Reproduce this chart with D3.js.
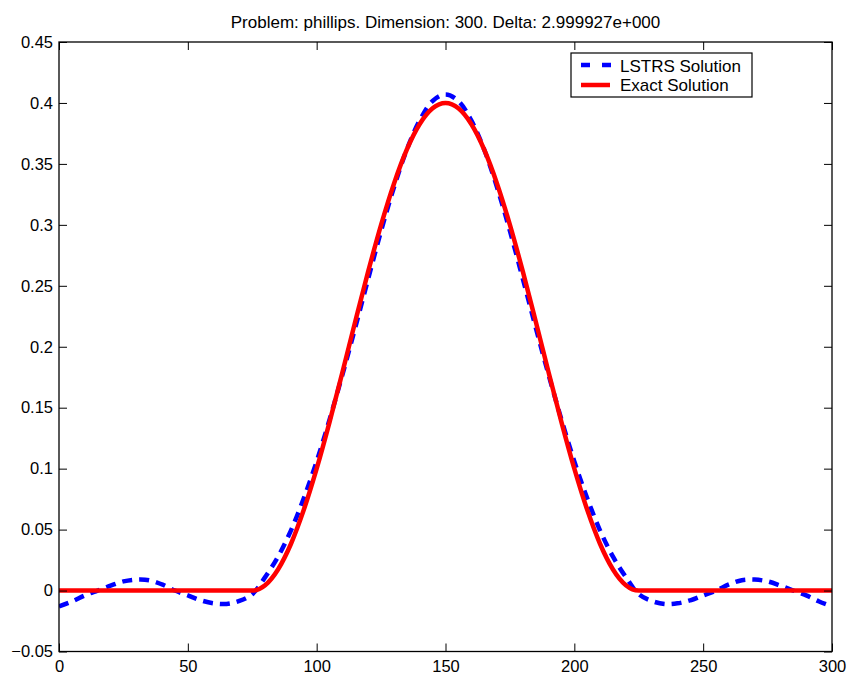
<!DOCTYPE html>
<html>
<head>
<meta charset="utf-8">
<script src="https://cdn.jsdelivr.net/npm/d3@7"></script>
<style>
  html, body { margin: 0; padding: 0; background: #fff; }
  svg { display: block; }
  text { font-family: "Liberation Sans", Arial, Helvetica, sans-serif; fill: #000; }
</style>
</head>
<body>
<svg id="chart" width="849" height="675"></svg>
<script>
const titleText = "Problem: phillips. Dimension: 300. Delta: 2.999927e+000";
const seriesNames = ["LSTRS Solution", "Exact Solution"];
const xTicks = [0, 50, 100, 150, 200, 250, 300];
const yTicks = [-0.05, 0, 0.05, 0.1, 0.15, 0.2, 0.25, 0.3, 0.35, 0.4, 0.45];
const yTickLabels = ["\u22120.05", "0", "0.05", "0.1", "0.15", "0.2", "0.25", "0.3", "0.35", "0.4", "0.45"];

const xValues = [0,5,10,15,20,25,30,35,40,45,50,55,60,65,70,75,80,85,90,95,100,105,110,115,120,125,130,135,140,145,150,
  155,160,165,170,175,180,185,190,195,200,205,210,215,220,225,230,235,240,245,250,255,260,265,270,275,280,285,290,295,300];

const exactSolution = [0,0,0,0,0,0,0,0,0,0,0,0,0,0,0,0,
  0.0044,0.0173,0.0382,0.0662,0.1,0.1382,0.1791,0.2209,0.2618,0.3,0.3338,0.3618,0.3827,0.3956,
  0.4,
  0.3956,0.3827,0.3618,0.3338,0.3,0.2618,0.2209,0.1791,0.1382,0.1,0.0662,0.0382,0.0173,0.0044,
  0,0,0,0,0,0,0,0,0,0,0,0,0,0,0,0];

const lstrsSolution = [-0.013,-0.009,-0.004,0.000,0.004,0.0075,0.009,0.0085,0.005,0.000,-0.004,-0.008,-0.0105,-0.011,-0.0085,-0.003,
  0.011,0.0278,0.0492,0.0757,0.106,0.1402,0.1771,0.2159,0.2558,0.295,0.3308,0.3618,0.3857,0.4016,
  0.407,
  0.4016,0.3857,0.3618,0.3308,0.295,0.2558,0.2159,0.1771,0.1402,0.106,0.0757,0.0492,0.0278,0.011,
  -0.003,-0.0085,-0.011,-0.0105,-0.008,-0.004,0.000,0.005,0.0085,0.009,0.0075,0.004,0.000,-0.004,-0.009,-0.013];

const svg = d3.select("#chart");
const L = 59, R = 832, T = 42, B = 651.5;

const x = d3.scaleLinear().domain([0, 300]).range([L, R]);
const y = d3.scaleLinear().domain([-0.05, 0.45]).range([B, T]);

svg.append("defs").append("clipPath").attr("id", "clip")
  .append("rect").attr("x", L).attr("y", T).attr("width", R - L).attr("height", B - T);

// title
svg.append("text").attr("x", (L + R) / 2).attr("y", 28)
  .attr("text-anchor", "middle").style("font-size", "17px").text(titleText);

// data lines
const plot = svg.append("g").attr("clip-path", "url(#clip)");
const lineL = d3.line().x((d, i) => x(xValues[i])).y(d => y(d)).curve(d3.curveCatmullRom.alpha(0.5));
const lineE = d3.line().x((d, i) => x(xValues[i])).y(d => y(d)).curve(d3.curveMonotoneX);

plot.append("path").datum(lstrsSolution).attr("d", lineL)
  .attr("fill", "none").attr("stroke", "#0000ff").attr("stroke-width", 4.5)
  .attr("stroke-dasharray", "10,7");
plot.append("path").datum(exactSolution).attr("d", lineE)
  .attr("fill", "none").attr("stroke", "#ff0000").attr("stroke-width", 4.5)
  .attr("stroke-linejoin", "round");

// axes with inward ticks (MATLAB style)
const tickLen = 8;
const axB = svg.append("g").attr("transform", `translate(0,${B})`)
  .call(d3.axisBottom(x).tickValues(xTicks).tickSizeInner(-tickLen).tickSizeOuter(0).tickPadding(9));
const axT = svg.append("g").attr("transform", `translate(0,${T})`)
  .call(d3.axisTop(x).tickValues(xTicks).tickSizeInner(-tickLen).tickSizeOuter(0).tickFormat(""));
const axLft = svg.append("g").attr("transform", `translate(${L},0)`)
  .call(d3.axisLeft(y).tickValues(yTicks).tickSizeInner(-tickLen).tickSizeOuter(0).tickPadding(6)
    .tickFormat((d, i) => yTickLabels[i]));
const axRt = svg.append("g").attr("transform", `translate(${R},0)`)
  .call(d3.axisRight(y).tickValues(yTicks).tickSizeInner(-tickLen).tickSizeOuter(0).tickFormat(""));

[axB, axT, axLft, axRt].forEach(a => {
  a.select(".domain").remove();
  a.selectAll(".tick line").attr("stroke", "#000").attr("stroke-width", 1);
  a.selectAll("text").style("font-size", "16.5px").attr("fill", "#000")
    .style("font-family", '"Liberation Sans", Arial, Helvetica, sans-serif');
});

// box
svg.append("rect").attr("x", L).attr("y", T).attr("width", R - L).attr("height", B - T)
  .attr("fill", "none").attr("stroke", "#000").attr("stroke-width", 1.3);

// legend
const lg = svg.append("g");
lg.append("rect").attr("x", 571).attr("y", 53).attr("width", 181).attr("height", 44)
  .attr("fill", "#fff").attr("stroke", "#000").attr("stroke-width", 1.2);
lg.append("line").attr("x1", 581).attr("x2", 611).attr("y1", 65).attr("y2", 65)
  .attr("stroke", "#0000ff").attr("stroke-width", 4.5).attr("stroke-dasharray", "9,12");
lg.append("line").attr("x1", 581).attr("x2", 610).attr("y1", 85).attr("y2", 85)
  .attr("stroke", "#ff0000").attr("stroke-width", 4.5);
lg.append("text").attr("x", 620).attr("y", 71.5).style("font-size", "17px").text(seriesNames[0]);
lg.append("text").attr("x", 620).attr("y", 90.5).style("font-size", "17px").text(seriesNames[1]);
</script>
</body>
</html>
